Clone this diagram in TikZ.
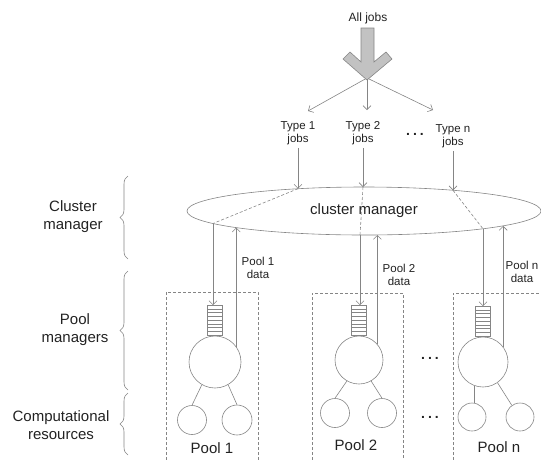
\documentclass[tikz,border=0pt]{standalone}
\usepackage{fontspec}
\setmainfont{Liberation Sans}
\usetikzlibrary{arrows.meta,shapes.geometric,decorations.pathreplacing}
\definecolor{linegray}{HTML}{858585}
\definecolor{fillgray}{HTML}{C2C2C2}
\definecolor{textgray}{HTML}{222222}

\begin{document}
\begin{tikzpicture}[x=1pt,y=-1pt,
  conn/.style={draw=linegray,line width=0.6pt},
  arr/.style={conn,-{Straight Barb[length=4pt,width=8pt]}},
  lbl/.style={font=\fontsize{11.5}{13}\selectfont,align=center,text=textgray},
  biglbl/.style={font=\fontsize{15}{18}\selectfont,align=center,text=textgray},
  dots/.style={font=\fontsize{14}{14}\selectfont\bfseries,text=textgray},
  poolbox/.style={conn,dash pattern=on 3pt off 2pt},
  queue/.style={conn,minimum width=15,minimum height=30,anchor=south},
  mgr/.style={conn,circle},
  res/.style={conn,circle,minimum size=29},
  layerbrace/.style={conn,decorate,decoration={brace,amplitude=8pt}}]
\tikzstyle{every node}+=[inner sep=0pt]
\useasboundingbox (0,0) rectangle (541,459);

% jobs coming in
\node [lbl,font=\fontsize{12}{14}\selectfont] (all) at (368,18) {All jobs};
\coordinate (split) at (367,78);
\node [lbl] (t1) at (298,133) {Type 1\\jobs};
\node [lbl] (t2) at (363,133) {Type 2\\jobs};
\node [dots] (d0) at (415,134) {.\kern3pt.\kern3pt.};
\node [lbl] (tn) at (453,136) {Type n\\jobs};
\coordinate (e1) at (308,111);
\coordinate (e2) at (367,110);
\coordinate (en) at (433,110);
\draw [arr] (split) -- (e1);
\draw [arr] (split) -- (e2);
\draw [arr] (split) -- (en);
\draw [conn,fill=fillgray] (361,28) -- (374,28) -- (374,62) -- (386,52) -- (392,59)
  -- (367,80) -- (343,59) -- (350,52) -- (361,62) -- cycle;

% cluster manager
\node [conn,ellipse,minimum width=354,minimum height=48,biglbl] (cm) at (364,211) {cluster manager};
\coordinate (top1) at (298,188.7);
\coordinate (top2) at (363,187);
\coordinate (topn) at (453,190.3);
\coordinate (bot1) at (213,223.5);
\coordinate (bot2) at (360,235);
\coordinate (botn) at (483,228.8);
\coordinate (up1) at (236,227.6);
\coordinate (up2) at (377,234.9);
\coordinate (upn) at (503,225.9);
\draw [arr,shorten <=3pt] (t1.south) -- (top1);
\draw [arr,shorten <=3pt] (t2.south) -- (top2);
\draw [arr,shorten <=3pt] (tn.south) -- (topn);
\draw [conn,dash pattern=on 3pt off 2pt] (top1) -- (bot1);
\draw [conn,dash pattern=on 3pt off 2pt] (top2) -- (bot2);
\draw [conn,dash pattern=on 3pt off 2pt] (topn) -- (botn);

% layers
\node [biglbl] (lcm) at (73,217) {Cluster\\manager};
\node [biglbl] (lpm) at (75,330) {Pool\\managers};
\node [biglbl] (lcr) at (61,425) {Computational\\resources};
\draw [layerbrace] (128,259) -- (128,176);
\draw [layerbrace] (128,390) -- (128,271);
\draw [layerbrace] (128,455) -- (128,393);

% pool 1
\draw [poolbox] (166,470) -- (166,292) -- (258,292) -- (258,470);
\node [mgr,minimum size=52] (pm1) at (215,362) {};
\node [queue] (q1) at (pm1.north) {};
\foreach \k in {1,...,7}
  \draw [conn] (q1.north west) ++(0,3.75*\k) -- ++(15,0);
\node [res] (r1a) at (192,420) {};
\node [res,minimum size=30] (r1b) at (237,420) {};
\draw [conn] (pm1.240) -- (r1a.north);
\draw [conn] (pm1.300) -- (r1b.north);
\draw [arr] (bot1) -- (bot1 |- q1.north);
\draw [arr] (pm1.36) -- (pm1.36 |- up1);
\node [lbl] (pd1) at (258,268) {Pool 1\\data};
\node [biglbl] (p1) at (212,448) {Pool 1};

% pool 2
\draw [poolbox] (312,470) -- (312,293) -- (403,293) -- (403,470);
\node [mgr,minimum size=48] (pm2) at (359,360) {};
\node [queue] (q2) at (pm2.north) {};
\foreach \k in {1,...,7}
  \draw [conn] (q2.north west) ++(0,3.75*\k) -- ++(15,0);
\node [res] (r2a) at (335,413) {};
\node [res] (r2b) at (382,413) {};
\draw [conn] (pm2.240) -- (r2a.north);
\draw [conn] (pm2.300) -- (r2b.north);
\draw [arr] (bot2) -- (bot2 |- q2.north);
\draw [arr] (pm2.41) -- (pm2.41 |- up2);
\node [lbl] (pd2) at (399,275) {Pool 2\\data};
\node [biglbl] (p2) at (356,445) {Pool 2};

\node [dots] (d1) at (430,358) {.\kern3pt.\kern3pt.};
\node [dots] (d2) at (430,417) {.\kern3pt.\kern3pt.};

% pool n
\draw [poolbox] (453,470) -- (453,293) -- (560,293);
\node [mgr,minimum size=50] (pmn) at (483,362) {};
\node [queue] (qn) at (pmn.north) {};
\foreach \k in {1,...,7}
  \draw [conn] (qn.north west) ++(0,3.75*\k) -- ++(15,0);
\node [res,minimum size=28] (rna) at (472,417) {};
\node [res,minimum size=28] (rnb) at (520,417) {};
\draw [conn] (pmn.250) -- (pmn.250 |- rna.north);
\draw [conn] (pmn.305) -- (rnb.125);
\draw [arr] (botn) -- (botn |- qn.north);
\draw [arr] (pmn.37) -- (pmn.37 |- upn);
\node [lbl] (pdn) at (522,272) {Pool n\\data};
\node [biglbl] (pn) at (499,447) {Pool n};
\end{tikzpicture}
\end{document}
